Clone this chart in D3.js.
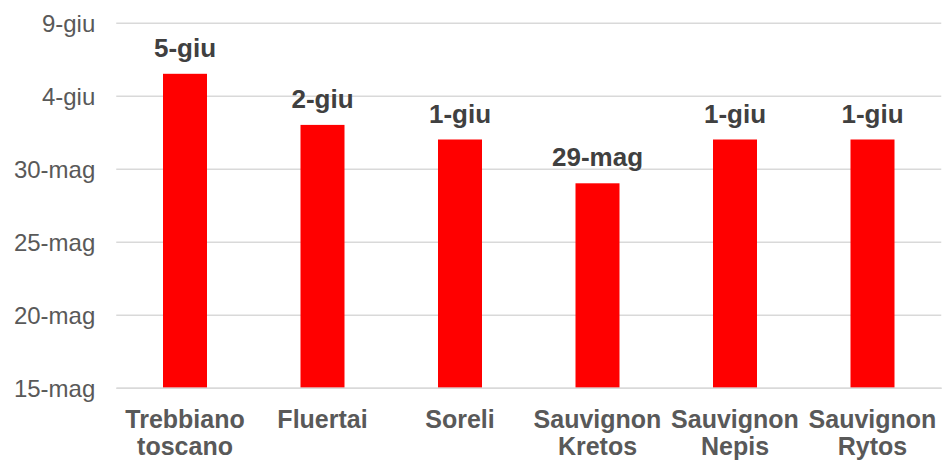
<!DOCTYPE html>
<html>
<head>
<meta charset="utf-8">
<script src="https://cdn.jsdelivr.net/npm/d3@7"></script>
<style>
    body { margin: 0; background: #fff; }
    svg { display: block; }
    svg text { font-family: "Liberation Sans", Arial, sans-serif; }
</style>
</head>
<body>
<script>

// Chart data
var categories = [
    ["Trebbiano", "toscano"],
    ["Fluertai"],
    ["Soreli"],
    ["Sauvignon", "Kretos"],
    ["Sauvignon", "Nepis"],
    ["Sauvignon", "Rytos"]
];
var dates = ["2019-06-05 12:00", "2019-06-02 00:00", "2019-06-01 00:00",
             "2019-05-29 00:00", "2019-06-01 00:00", "2019-06-01 00:00"];
var valueLabels = ["5-giu", "2-giu", "1-giu", "29-mag", "1-giu", "1-giu"];
var tickDates = ["2019-05-15 00:00", "2019-05-20 00:00", "2019-05-25 00:00",
                 "2019-05-30 00:00", "2019-06-04 00:00", "2019-06-09 00:00"];
var tickLabels = ["15-mag", "20-mag", "25-mag", "30-mag", "4-giu", "9-giu"];

d3.select(window).on('load', init);

function init()
{
    var w = 943;
    var h = 463;

    var parse = d3.timeParse("%Y-%m-%d %H:%M");

    var data = categories.map(function(c, i) {
        return { name: c, date: parse(dates[i]), label: valueLabels[i] };
    });
    var ticks = tickDates.map(parse);

    var left = 116.25, right = 941.25;
    var top = 22.7, bottom = 387.7;

    // Scales
    var xScale = d3.scaleBand()
        .domain(d3.range(categories.length))
        .range([left, right])
        .paddingInner(0.68)
        .paddingOuter(0.34);

    var yScale = d3.scaleTime()
        .domain([ticks[0], ticks[ticks.length - 1]])
        .range([bottom, top]);

    var svg = d3.select("body")
        .append("svg")
        .attr("width", w)
        .attr("height", h);

    // Y axis with gridlines
    var yAxis = d3.axisLeft(yScale)
        .tickValues(ticks)
        .tickFormat(function(d, i) { return tickLabels[i]; })
        .tickSize(-(right - left))
        .tickPadding(21);

    var gy = svg.append("g")
        .attr("transform", "translate(" + left + ",0)")
        .call(yAxis);
    gy.select(".domain").remove();
    gy.selectAll(".tick line")
        .attr("stroke", "#d9d9d9")
        .attr("stroke-width", 1.5);
    gy.selectAll(".tick text")
        .attr("fill", "#595959")
        .attr("font-size", "24px")
        .attr("dy", "0.37em");

    // Bars
    svg.selectAll("rect.bar")
        .data(data)
        .enter()
        .append("rect")
        .attr("class", "bar")
        .attr("x", function(d, i) { return xScale(i); })
        .attr("y", function(d) { return yScale(d.date); })
        .attr("width", xScale.bandwidth())
        .attr("height", function(d) { return bottom - yScale(d.date); })
        .attr("fill", "#ff0000");

    // Value labels
    svg.selectAll("text.value")
        .data(data)
        .enter()
        .append("text")
        .attr("class", "value")
        .attr("x", function(d, i) { return xScale(i) + xScale.bandwidth() / 2; })
        .attr("y", function(d) { return yScale(d.date) - 17; })
        .attr("text-anchor", "middle")
        .attr("font-size", "26px")
        .attr("font-weight", "bold")
        .attr("fill", "#404040")
        .text(function(d) { return d.label; });

    // X axis
    var xAxis = d3.axisBottom(xScale)
        .tickSize(0)
        .tickFormat("");

    var gx = svg.append("g")
        .attr("transform", "translate(0," + bottom + ")")
        .call(xAxis);
    gx.select(".domain")
        .attr("stroke", "#d9d9d9")
        .attr("stroke-width", 1.5);

    gx.selectAll(".tick text").remove();
    gx.selectAll(".tick")
        .append("text")
        .attr("fill", "#595959")
        .attr("font-size", "25px")
        .attr("font-weight", "bold")
        .attr("text-anchor", "middle")
        .selectAll("tspan")
        .data(function(d) { return categories[d]; })
        .enter()
        .append("tspan")
        .attr("x", 0)
        .attr("y", function(d, i) { return 40 + i * 27; })
        .text(function(d) { return d; });
}

</script>
</body>
</html>
